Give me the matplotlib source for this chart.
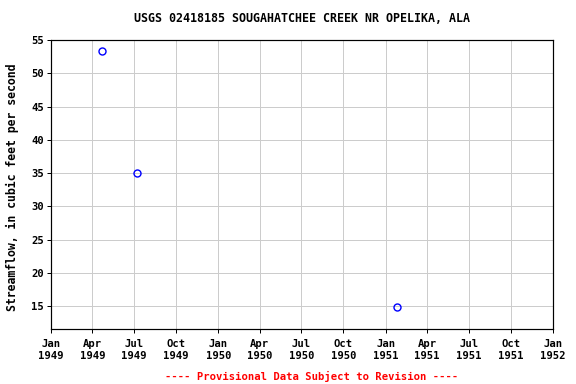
import matplotlib
matplotlib.use("Agg")
import matplotlib.pyplot as plt
from datetime import datetime

dates = [datetime(1949, 4, 23), datetime(1949, 7, 7), datetime(1951, 1, 26)]
flows = [53.3, 35.0, 14.8]

tick_dates = [datetime(y, m, 1) for y in (1949, 1950, 1951) for m in (1, 4, 7, 10)] + [datetime(1952, 1, 1)]
tick_labels = [d.strftime("%b\n%Y") for d in tick_dates]
y_ticks = [15, 20, 25, 30, 35, 40, 45, 50, 55]

plt.rcParams['font.family'] = ['DejaVu Sans Mono']
plt.rcParams['font.weight'] = 'bold'

fig = plt.figure(figsize=(8, 384/72), dpi=72)
ax = fig.add_axes([51/576, 55/384, 502/576, 289/384])

ax.plot(dates, flows, linestyle='none', marker='o', markersize=7,
        markerfacecolor='none', markeredgecolor='#0000ff', markeredgewidth=1.4, zorder=3)

ax.set_xlim(datetime(1949, 1, 1), datetime(1952, 1, 1))
ax.set_ylim(11.55, 55)
ax.set_xticks(tick_dates)
ax.set_xticklabels(tick_labels, fontsize=10.5, fontweight='bold', linespacing=1.3)
ax.set_yticks(y_ticks)
ax.set_yticklabels([str(v) for v in y_ticks], fontsize=10.5, fontweight='bold')
ax.grid(True, color='#cccccc', linewidth=1)
ax.set_axisbelow(True)
ax.tick_params(direction='out', length=4, width=1, color='black', pad=3)
ax.tick_params(axis='x', pad=6)
for s in ax.spines.values():
    s.set_linewidth(1.2)

fig.text(302/576, 1 - 19/384, "USGS 02418185 SOUGAHATCHEE CREEK NR OPELIKA, ALA",
         fontsize=11.6, fontweight='bold', ha='center', va='center')
fig.text(12/576, 1 - 187/384, "Streamflow, in cubic feet per second",
         fontsize=11.5, fontweight='bold', ha='center', va='center', rotation=90)
fig.text(312/576, 1 - 376/384, "---- Provisional Data Subject to Revision ----",
         color='red', fontsize=10.5, fontweight='bold', ha='center', va='center')

fig.savefig("out.png", dpi=72)
